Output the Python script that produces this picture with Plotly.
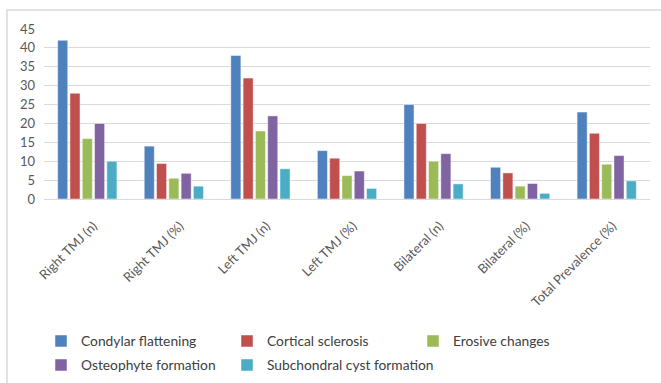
import plotly.graph_objects as go

categories = ["Right TMJ (n)", "Right TMJ (%)", "Left TMJ (n)", "Left TMJ (%)",
              "Bilateral (n)", "Bilateral (%)", "Total Prevalence (%)"]

condylar_flattening = [42, 14.0, 38, 12.8, 25, 8.4, 23.0]
cortical_sclerosis = [28, 9.4, 32, 10.8, 20, 6.9, 17.4]
erosive_changes = [16, 5.5, 18, 6.2, 10, 3.4, 9.2]
osteophyte_formation = [20, 6.8, 22, 7.4, 12, 4.1, 11.5]
subchondral_cyst = [10, 3.4, 8, 2.8, 4, 1.5, 4.8]

series = [
    ("Condylar flattening", condylar_flattening, "#4F81BD", "legend"),
    ("Cortical sclerosis", cortical_sclerosis, "#C0504D", "legend"),
    ("Erosive changes", erosive_changes, "#9BBB59", "legend"),
    ("Osteophyte formation", osteophyte_formation, "#8064A2", "legend2"),
    ("Subchondral cyst formation", subchondral_cyst, "#4BACC6", "legend3"),
]

fig = go.Figure()
for name, vals, color, lg in series:
    fig.add_trace(go.Bar(
        x=categories, y=vals, name=name, legend=lg,
        marker=dict(color=color, line=dict(color="rgba(255,255,255,0.6)", width=0.8)),
    ))

W, H = 661, 383
L, R, T, B = 44, 11, 29, 184
pw, ph = W - L - R, H - T - B


def px_x(x):
    return (x - L) / pw


def px_y(y):
    return (H - B - y) / ph


legend_common = dict(
    orientation="h", xanchor="left", yanchor="middle",
    entrywidth=141, entrywidthmode="pixels",
    font=dict(family="Lato, sans-serif", size=13.8, color="#404040"),
    traceorder="normal", bgcolor="rgba(0,0,0,0)",
)

fig.update_layout(
    width=W, height=H,
    margin=dict(l=L, r=R, t=T, b=B, autoexpand=False),
    paper_bgcolor="white", plot_bgcolor="white",
    barmode="group", bargap=0.29, bargroupgap=0.18,
    font=dict(family="Lato, Open Sans, sans-serif", size=12, color="#595959"),
    showlegend=True,
    legend=dict(x=px_x(41), y=px_y(341), **legend_common),
    legend2=dict(x=px_x(41), y=px_y(365), **legend_common),
    legend3=dict(x=px_x(227), y=px_y(365),
                 **{k: v for k, v in legend_common.items() if k not in ("entrywidth", "entrywidthmode")}),
    xaxis=dict(
        tickangle=-45, showgrid=False, showline=False, ticks="",
        tickfont=dict(size=13, color="#595959"),
        ticklabelstandoff=16, ticklabelshift=6, automargin=False,
    ),
    yaxis=dict(
        range=[0, 45], dtick=5, showgrid=True, gridcolor="#D9D9D9", gridwidth=1,
        zeroline=True, zerolinecolor="#D9D9D9", zerolinewidth=1,
        showline=False, ticks="", ticklabelstandoff=8, automargin=False,
        tickfont=dict(size=13, color="#595959"),
    ),
    shapes=[dict(
        type="rect", xref="paper", yref="paper",
        x0=px_x(7), x1=px_x(W + 5),
        y0=px_y(H + 5), y1=px_y(10),
        line=dict(color="#D9D9D9", width=1.5), fillcolor="rgba(0,0,0,0)",
        layer="below",
    )],
)

fig.write_html("out.html")
